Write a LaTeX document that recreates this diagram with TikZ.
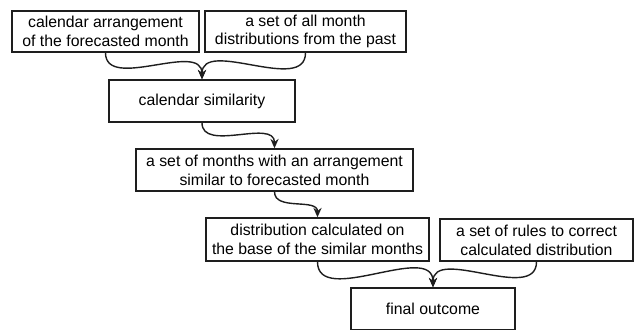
\documentclass[tikz,border=0pt]{standalone}
\usepackage{fontspec}
\setmainfont{Liberation Sans}
\usepackage{tikz}
\usetikzlibrary{arrows.meta}
\definecolor{lineaBox}{RGB}{30,30,30}
\tikzset{
  caja/.style={draw=lineaBox, line width=1.3pt, fill=white, align=center,
    font=\fontsize{13.5}{16}\selectfont, inner sep=0pt, minimum height=1.26cm},
  flecha/.style={draw=lineaBox, line width=1.2pt, -{Stealth[length=8pt,width=7pt]}}
}
\begin{document}
\begin{tikzpicture}
  \useasboundingbox (0,0) rectangle (19.08,-9.87);
  % Inputs
  \node[caja, minimum width=5.61cm, minimum height=1.23cm] (arreglo) at (3.165,-0.945)
    {calendar arrangement\\of the forecasted month};
  \node[caja, minimum width=6.03cm, minimum height=1.23cm] (pasado) at (9.165,-0.945)
    {a set of all month\\distributions from the past};
  % Middle steps
  \node[caja, minimum width=5.58cm] (similitud) at (6.06,-3.03)
    {calendar similarity};
  \node[caja, minimum width=8.31cm] (meses) at (8.235,-5.10)
    {a set of months with an arrangement\\similar to forecasted month};
  \node[caja, minimum width=6.69cm, minimum height=1.29cm] (distrib) at (9.525,-7.185)
    {distribution calculated on\\the base of the similar months};
  \node[caja, minimum width=5.79cm] (reglas) at (16.095,-7.2)
    {a set of rules to correct\\calculated distribution};
  % Output
  \node[caja, minimum width=4.92cm] (final) at (12.99,-9.27)
    {final outcome};
  % Connectors
  \draw[flecha] (arreglo.south) to[out=-90, in=90] (similitud.north);
  \draw[flecha] (pasado.south) to[out=-90, in=90] (similitud.north);
  \draw[flecha] (similitud.south) to[out=-90, in=90] (meses.north);
  \draw[flecha] (meses.south) to[out=-90, in=90] (distrib.north);
  \draw[flecha] (distrib.south) to[out=-90, in=90] (final.north);
  \draw[flecha] (reglas.south) to[out=-90, in=90] (final.north);
\end{tikzpicture}
\end{document}
